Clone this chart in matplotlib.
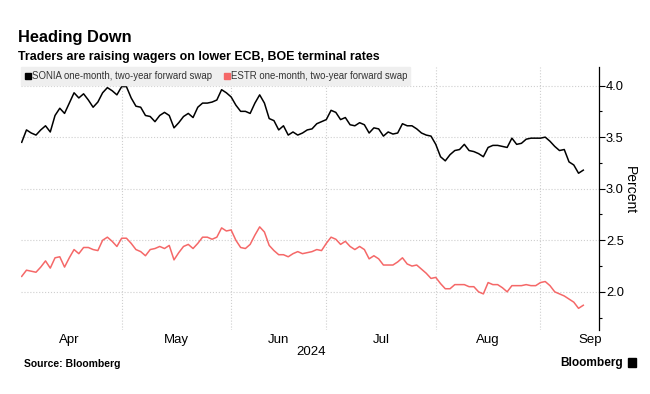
import numpy as np
import pandas as pd
import matplotlib
matplotlib.use("Agg")
import matplotlib.pyplot as plt
from matplotlib.patches import Rectangle
from matplotlib.ticker import FixedLocator, MultipleLocator

# Values (one point per business day)
sonia = [3.45, 3.57, 3.54, 3.52, 3.57, 3.61, 3.55, 3.71, 3.78, 3.73, 3.83, 3.93,
         3.88, 3.92, 3.86, 3.79, 3.84, 3.93, 3.98, 3.95, 3.91, 3.99, 3.99, 3.88,
         3.80, 3.79, 3.71, 3.70, 3.65, 3.71, 3.74, 3.71, 3.59, 3.64, 3.70, 3.73,
         3.69, 3.79, 3.83, 3.83, 3.84, 3.86, 3.96, 3.93, 3.89, 3.81, 3.75,
         3.75, 3.73, 3.83, 3.91, 3.83, 3.68, 3.66, 3.57, 3.61, 3.52, 3.55, 3.52,
         3.54, 3.57, 3.58, 3.63, 3.65, 3.67,
         3.76, 3.74, 3.67, 3.69, 3.62, 3.61, 3.64, 3.62, 3.54, 3.59, 3.58, 3.51,
         3.55, 3.53, 3.54, 3.63, 3.61, 3.61, 3.58, 3.54, 3.52, 3.51, 3.43, 3.31,
         3.27, 3.33, 3.37, 3.38, 3.43, 3.37, 3.36, 3.34, 3.31, 3.40, 3.42, 3.42,
         3.41, 3.40, 3.49, 3.43, 3.44, 3.48, 3.49, 3.49, 3.49, 3.50, 3.46, 3.41,
         3.37, 3.38, 3.26, 3.23, 3.15, 3.18]
estr = [2.15, 2.21, 2.20, 2.19, 2.24, 2.30, 2.23, 2.33, 2.34, 2.24, 2.33, 2.41,
        2.37, 2.43, 2.43, 2.41, 2.40, 2.50, 2.53, 2.49, 2.44, 2.52, 2.52, 2.47,
        2.41, 2.39, 2.35, 2.41, 2.42, 2.44, 2.42, 2.45, 2.31, 2.38, 2.44, 2.46,
        2.42, 2.47, 2.53, 2.53, 2.51, 2.53, 2.62, 2.59, 2.60, 2.50, 2.43,
        2.42, 2.46, 2.55, 2.63, 2.58, 2.45, 2.40, 2.36, 2.36, 2.34, 2.37, 2.39,
        2.37, 2.38, 2.39, 2.41, 2.40, 2.47,
        2.53, 2.51, 2.46, 2.49, 2.44, 2.41, 2.44, 2.41, 2.32, 2.35, 2.32, 2.26,
        2.26, 2.26, 2.29, 2.33, 2.27, 2.25, 2.26, 2.22, 2.18, 2.13, 2.14, 2.08,
        2.03, 2.03, 2.07, 2.07, 2.07, 2.05, 2.05, 2.00, 1.98, 2.09, 2.07, 2.07,
        2.04, 2.00, 2.06, 2.06, 2.06, 2.07, 2.06, 2.06, 2.09, 2.10, 2.06, 2.00,
        1.98, 1.96, 1.93, 1.90, 1.84, 1.87]
months = ["Apr", "May", "Jun", "Jul", "Aug", "Sep"]
y_ticks = [2.0, 2.5, 3.0, 3.5, 4.0]
sonia_label = "SONIA one-month, two-year forward swap"
estr_label = "ESTR one-month, two-year forward swap"

# x axis is a business-day index; first point is Tue 2 Apr 2024
cal = pd.bdate_range("2024-04-01", "2024-10-01")
pos = np.arange(len(cal)) - 1
month_start = [pos[cal.month == m][0] for m in range(4, 11)]
bounds = month_start[1:6]
label_pos = [(month_start[i] + month_start[i + 1]) / 2 for i in range(6)]
x = np.arange(len(sonia))

W, H = 650, 394
plt.rcParams["font.family"] = ["Liberation Sans", "DejaVu Sans"]

fig = plt.figure(figsize=(W / 100, H / 100), dpi=100)
ax = fig.add_axes([21 / W, 1 - 330 / H, 578 / W, 263 / H])

ax.plot(x, sonia, color="black", lw=1.1, zorder=3)
ax.plot(x, estr, color="#f56868", lw=1.1, zorder=3)
ax.set_xlim(-0.15, 121.3)
ax.set_ylim(1.63, 4.18)

for s in ["left", "top", "bottom"]:
    ax.spines[s].set_visible(False)
ax.spines["right"].set_linewidth(0.9)

ax.yaxis.tick_right()
ax.set_yticks(y_ticks)
ax.set_yticklabels([f"{v:.1f}" for v in y_ticks])
ax.yaxis.set_minor_locator(MultipleLocator(0.25))
ax.tick_params(axis="y", which="major", length=4, width=0.8, labelsize=9.3, pad=1)
ax.tick_params(axis="y", which="minor", length=2.5, width=0.8)

ax.xaxis.set_major_locator(FixedLocator(bounds))
ax.xaxis.set_minor_locator(FixedLocator(label_pos))
ax.set_xticklabels([], minor=False)
ax.set_xticklabels(months, minor=True)
ax.tick_params(axis="x", which="both", length=0, labelsize=9.5, pad=3)

ax.grid(True, which="major", color="#cfcfcf", linestyle=":", lw=0.8)

# text
fig.text(18 / W, 1 - 42 / H, "Heading Down", fontsize=11.8, weight="bold", va="baseline")
fig.text(18 / W, 1 - 60 / H, "Traders are raising wagers on lower ECB, BOE terminal rates",
         fontsize=8.9, weight="bold", va="baseline")
fig.text(311 / W, 1 - 352 / H, "2024", fontsize=9.5, ha="center", va="center")
fig.text(630 / W, 1 - 190 / H, "Percent", fontsize=10, rotation=270, ha="center", va="center")
fig.text(24 / W, 1 - 364 / H, "Source: Bloomberg", fontsize=7.5, weight="bold", va="center")
fig.text(623 / W, 1 - 363 / H, "Bloomberg", fontsize=8.6, weight="bold", ha="right", va="center")
fig.add_artist(Rectangle((628 / W, 1 - 367 / H), 8 / W, 9 / H, color="black",
                         transform=fig.transFigure))

# legend strip
fig.add_artist(Rectangle((21 / W, 1 - 85 / H), 389 / W, 18 / H, color="#efefef",
                         transform=fig.transFigure, zorder=2))
for x0, col, lab in [(25, "black", sonia_label), (224, "#f56868", estr_label)]:
    fig.add_artist(Rectangle((x0 / W, 1 - 79 / H), 6 / W, 6 / H, color=col,
                             transform=fig.transFigure, zorder=3))
    fig.text((x0 + 7) / W, 1 - 76 / H, lab, fontsize=6.9, color="#333333", va="center", zorder=3)

fig.savefig("out.png", dpi=100)
